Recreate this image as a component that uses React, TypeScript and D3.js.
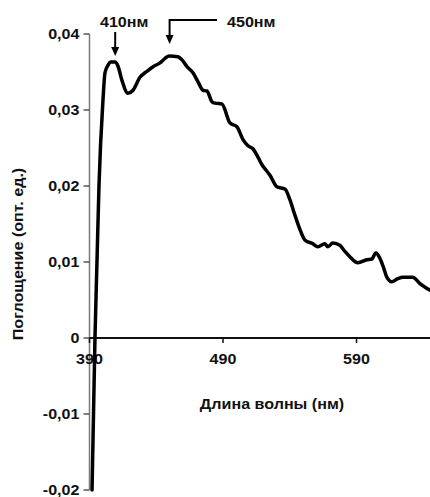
import React from 'react';
import * as d3 from 'd3';

// absorbance spectrum
const wavelengths = [
  391.9, 394.1, 395.6, 397.1, 400.1, 401.6, 403.9, 406.1, 409.1, 411.3, 414.3, 418.8,
  422.6, 427.8, 433.1, 437.6, 442.8, 446.6, 449.6, 456.3, 459.3, 463.0, 467.5, 471.3,
  475.0, 478.0, 481.7, 484.0, 489.2, 495.2, 500.4, 505.0, 508.7, 512.4, 516.2, 519.2,
  522.2, 525.2, 530.4, 536.4, 540.1, 543.8, 547.6, 551.3, 557.3, 561.0, 566.3, 568.5,
  572.3, 577.5, 581.3, 585.0, 591.0, 597.7, 601.5, 604.5, 607.5, 610.4, 612.7, 616.4,
  620.9, 624.6, 632.1, 637.3, 644.8,
];
const absorbance = [
  -0.02, 0.0, 0.01, 0.02, 0.0313, 0.0349, 0.0359, 0.0363, 0.0363, 0.0358, 0.0339, 0.0322,
  0.0326, 0.0343, 0.0351, 0.0357, 0.0362, 0.0368, 0.0371, 0.037, 0.0366, 0.0357, 0.0349, 0.0337,
  0.0326, 0.0325, 0.0311, 0.0309, 0.0308, 0.0283, 0.0278, 0.0261, 0.0253, 0.0249, 0.0238, 0.0228,
  0.0221, 0.0214, 0.0199, 0.0196, 0.0182, 0.0162, 0.0143, 0.0129, 0.0124, 0.012, 0.0124, 0.012,
  0.0125, 0.0122, 0.0114, 0.0107, 0.0099, 0.0103, 0.0104, 0.0112, 0.0105, 0.0092, 0.008, 0.0074,
  0.0078, 0.008, 0.008, 0.0072, 0.0063,
];

const xTicks = [390, 490, 590];
const yTicks = [-0.02, -0.01, 0, 0.01, 0.02, 0.03, 0.04];
const peaks = [410, 450];
const peakLabels = ['410нм', '450нм'];

const W = 430, H = 497;
const FONT = '"Liberation Sans", Arial, sans-serif';
const SX = 1.15; // the source figure's text is a little stretched sideways

function Txt({ x, y, rot = 0, anchor = 'start', size = 14, dy, children }: any) {
  return (
    <text transform={`translate(${x},${y}) rotate(${rot}) scale(${SX},1)`} dy={dy}
      textAnchor={anchor} fontFamily={FONT} fontWeight="bold" fontSize={size}
      fill="#111" stroke="none">{children}</text>
  );
}

export default function App() {
  const x = d3.scaleLinear().domain([390, 650]).range([89.5, 89.5 + 260 * 1.335]);
  const y = d3.scaleLinear().domain([-0.02, 0.04]).range([490, 34]);

  const pts = wavelengths.map((w, i) => [w, absorbance[i]] as [number, number]);
  const line = d3.line<[number, number]>()
    .x(d => x(d[0]))
    .y(d => y(d[1]))
    .curve(d3.curveMonotoneX);

  const fmt = (v: number) => (v === 0 ? '0' : d3.format('.2f')(v).replace('.', ',').replace('−', '-'));
  const y0 = y(0);
  const axX = x(390);
  const a = x(peaks[0]) - 1;
  const b = x(peaks[1]);

  return (
    <div style={{ position: 'absolute', left: 0, top: 0 }}>
      <svg width={W} height={H} style={{ display: 'block', background: '#fff' }}>
        {/* y axis */}
        <line x1={axX} x2={axX} y1={y(0.04)} y2={y(-0.02)} stroke="#7a7a7a" strokeWidth={1.5} />
        {yTicks.map(t => (
          <g key={t}>
            <line x1={axX - 6} x2={axX} y1={y(t)} y2={y(t)} stroke="#555" strokeWidth={1.5} />
            <Txt x={axX - 10} y={y(t)} dy="0.35em" anchor="end">{fmt(t)}</Txt>
          </g>
        ))}

        {/* x axis at zero */}
        <line x1={axX} x2={W} y1={y0} y2={y0} stroke="#111" strokeWidth={1.8} />
        {xTicks.map(t => (
          <g key={t}>
            <line x1={x(t)} x2={x(t)} y1={y0} y2={y0 + 5} stroke="#111" strokeWidth={1.5} />
            <Txt x={x(t)} y={y0 + 26} anchor="middle">{t}</Txt>
          </g>
        ))}

        {/* axis titles */}
        <Txt x={272} y={409} anchor="middle" size={14}>Длина волны (нм)</Txt>
        <Txt x={23} y={254} rot={-90} anchor="middle" size={14}>Поглощение (опт. ед.)</Txt>

        {/* spectrum */}
        <path d={line(pts) ?? ''} fill="none" stroke="#000" strokeWidth={3.5}
          strokeLinejoin="round" strokeLinecap="round" />

        {/* peak annotations */}
        <g stroke="#000" fill="#000">
          <line x1={a} x2={a} y1={32} y2={48} strokeWidth={2} />
          <path d={`M${a - 4},47 L${a + 4},47 L${a},56 Z`} stroke="none" />
          <Txt x={a + 9} y={27} anchor="middle">{peakLabels[0]}</Txt>

          <path d={`M217,20 L${b},20 L${b},36`} fill="none" strokeWidth={2} />
          <path d={`M${b - 4},35 L${b + 4},35 L${b},44 Z`} stroke="none" />
          <Txt x={227} y={27}>{peakLabels[1]}</Txt>
        </g>
      </svg>
    </div>
  );
}
